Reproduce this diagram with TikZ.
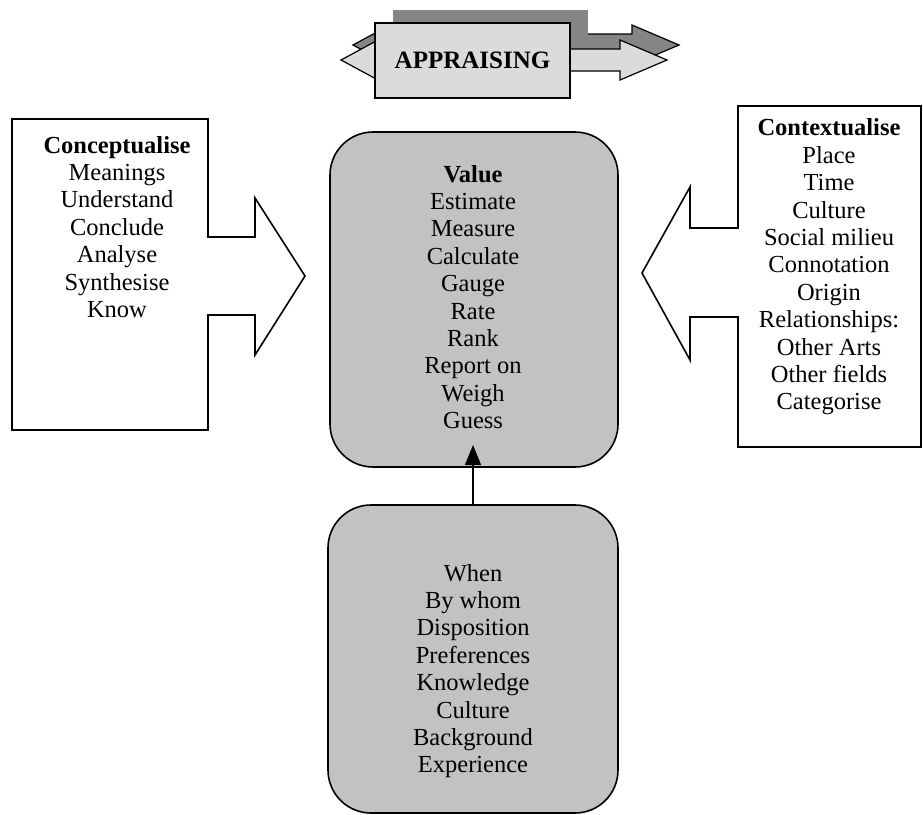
\documentclass[tikz,border=0pt]{standalone}
\usepackage{fontspec}
\setmainfont{Liberation Serif}
\usetikzlibrary{arrows.meta}
\definecolor{boxgray}{gray}{0.76}
\definecolor{lightface}{gray}{0.86}
\definecolor{darkface}{gray}{0.52}
\begin{document}
\begin{tikzpicture}[x=1pt,y=-1pt,
  callout/.style={draw=black, line width=1.6pt, fill=white, line join=miter},
  roundbox/.style={draw=black, line width=1.6pt, fill=boxgray, rounded corners=43pt, inner sep=0pt},
  txt/.style={align=center, font=\fontsize{24.5}{27.4}\selectfont, inner sep=0pt},
  blockarrow/.style={draw=black, line width=1.2pt, line join=miter},
]
\useasboundingbox (0,0) rectangle (923,814);

% --- double-headed block arrow behind the title box ---
% raised back face
\path[blockarrow, fill=darkface, shift={(12,-15)}]
  (341,60) -- (378,40) -- (378,49) -- (620,49) -- (620,40) -- (667,60)
  -- (620,80) -- (620,71) -- (378,71) -- (378,80) -- cycle;
% shadow of the title box
\fill[darkface] (393,10) rectangle (588,60);
% front face
\path[blockarrow, fill=lightface]
  (341,60) -- (378,40) -- (378,49) -- (620,49) -- (620,40) -- (667,60)
  -- (620,80) -- (620,71) -- (378,71) -- (378,80) -- cycle;

% title box
\node[draw=black, line width=1.8pt, fill=lightface, minimum width=195pt,
      minimum height=75pt, inner sep=0pt,
      font=\fontsize{25}{28}\selectfont\bfseries] (appr) at (472.5,60.5) {APPRAISING};

% --- left callout: conceptualise ---
\path[callout] (12,119) -- (208,119) -- (208,237) -- (255,237) -- (255,198)
  -- (305,276) -- (255,355) -- (255,315) -- (208,315) -- (208,430)
  -- (12,430) -- cycle;
\node[txt] (concept) at (117,227) {\textbf{Conceptualise}\\Meanings\\Understand\\Conclude\\Analyse\\Synthesise\\Know};

% --- right callout: contextualise ---
\path[callout] (921,106) -- (738,106) -- (738,228) -- (690,228) -- (690,187)
  -- (642,273) -- (690,360) -- (690,317) -- (738,317) -- (738,447)
  -- (921,447) -- cycle;
\node[txt] (context) at (829,267) {\textbf{Contextualise}\\Place\\Time\\Culture\\Social milieu\\Connotation\\Origin\\Relationships:\\Other Arts\\Other fields\\Categorise};

% --- central box: value ---
\node[roundbox, minimum width=288pt, minimum height=335pt] (valbox) at (474,299.5) {};
\node[txt] (valtxt) at (473,297) {\textbf{Value}\\Estimate\\Measure\\Calculate\\Gauge\\Rate\\Rank\\Report on\\Weigh\\Guess};

% --- lower box: the appraiser ---
\node[roundbox, minimum width=290pt, minimum height=308pt] (whobox) at (473,659) {};
\node[txt] (whotxt) at (473,671) {When\\By whom\\Disposition\\Preferences\\Knowledge\\Culture\\Background\\Experience};

% connector from the appraiser to the value box
\coordinate (tip) at (473,445);
\draw[line width=1.4pt, -{Triangle[length=20pt,width=16pt]}] (whobox.north -| tip) -- (tip);
\end{tikzpicture}
\end{document}
